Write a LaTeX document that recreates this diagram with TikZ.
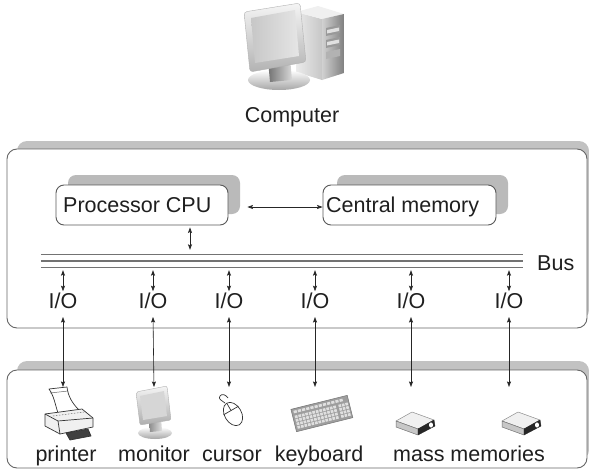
\documentclass[tikz,border=0pt]{standalone}
\usepackage{fontspec}
\setmainfont{Liberation Sans}
\usetikzlibrary{arrows.meta,calc}

\begin{document}
\begin{tikzpicture}[x=1pt,y=-1pt,
  txt/.style={font=\fontsize{21.5}{26}\selectfont, text=black!88, inner sep=0pt},
  panel/.style={draw=black!60, line width=0.9pt, rounded corners=10pt, fill=white},
  backing/.style={fill=black!24, rounded corners=10pt},
  unit/.style={draw=black!65, line width=0.9pt, rounded corners=8pt, fill=white,
               minimum width=172pt, minimum height=40pt, inner sep=0pt},
  unitshadow/.style={fill=black!27, rounded corners=8pt},
  buswire/.style={draw=black!55, line width=1.1pt},
  link/.style={{Stealth[length=5.5pt,width=4pt,inset=1pt]}-{Stealth[length=5.5pt,width=4pt,inset=1pt]},
               line width=0.6pt, draw=black!85, fill=black!85},
  outline/.style={draw=black!80, line width=0.7pt, line join=round},
  massdrive/.pic={
    \filldraw[fill=black!6, draw=black!45, line width=0.5pt, line join=round]
      (-20,-2) -- (-4,-11) -- (18,-3) -- (2,6) -- cycle;
    \filldraw[fill=black!22, draw=black!55, line width=0.5pt, line join=round]
      (-20,-2) -- (2,6) -- (2,12) -- (-20,4) -- cycle;
    \filldraw[fill=black!85, draw=black!85, line join=round]
      (2,6) -- (18,-3) -- (19,3) -- (2,12) -- cycle;
    \fill[white] (15,2) ellipse [x radius=2pt, y radius=2.6pt];
  },
]
\useasboundingbox (0,0) rectangle (589,471);

% ---------- computer icon ----------
% tower
\shade[left color=black!8, right color=black!22] (296,12) -- (322,19) -- (322,80) -- (296,72) -- cycle;
\fill[black!6] (296,12) -- (318,6) -- (344,14) -- (322,19) -- cycle;
\shade[left color=black!18, right color=black!50] (322,19) -- (344,14) -- (344,73) -- (322,80) -- cycle;
\fill[black!40] (326,28) -- (340,25) -- (340,33) -- (326,36) -- cycle;
\fill[black!12] (327,30) -- (339,27.5) -- (339,31) -- (327,33.5) -- cycle;
\fill[black!40] (326,40) -- (340,37) -- (340,45) -- (326,48) -- cycle;
\fill[black!12] (327,42) -- (339,39.5) -- (339,43) -- (327,45.5) -- cycle;
\fill[black!30] (326,52) -- (340,49) -- (340,56) -- (326,59) -- cycle;
% stand
\shade[top color=white, bottom color=black!35] (279,80) ellipse [x radius=31pt, y radius=10pt];
\shade[left color=black!55, right color=black!15] (268,60) -- (290,58) -- (292,80) -- (270,82) -- cycle;
% display
\shade[top color=black!4, bottom color=black!30, draw=black!30, rounded corners=3pt]
  (244,12) -- (300,3) -- (306,62) -- (250,72) -- cycle;
\shade[left color=black!22, right color=black!10]
  (251,18) -- (295,10) -- (299,56) -- (255,63) -- cycle;
\node[txt, anchor=base] (computer) at (292,122) {Computer};

% ---------- upper panel ----------
\fill[backing] (17,141) rectangle (589,320);
\draw[panel] (7,149) rectangle (587,328);

\fill[unitshadow] (68,175) rectangle (240,214);
\node[unit] (cpu) at (142,205) {};
\node[txt, anchor=base west] (cputext) at (63,212) {Processor CPU};

\fill[unitshadow] (337,175) rectangle (508,214);
\node[unit, minimum width=173pt] (mem) at (409.5,205) {};
\node[txt, anchor=base west] (memtext) at (326,212) {Central memory};

% bus
\node[minimum width=482pt, minimum height=12pt, inner sep=0pt] (bus) at (282,261) {};
\draw[buswire] (bus.north west) -- (bus.north east);
\draw[buswire] (bus.west) -- (bus.east);
\draw[buswire] (bus.south west) -- (bus.south east);
\node[txt, anchor=base west] (buslabel) at (537,270) {Bus};

% I/O ports
\foreach \x [count=\i] in {63,153,229,315,411,509}
  \node[txt, anchor=base] (io\i) at (\x,308) {I/O};

% ---------- lower panel ----------
\fill[backing] (17,361) rectangle (589,460);
\draw[panel] (7,370) rectangle (587,468);

% printer
\filldraw[outline, fill=white]
  (49,389) -- (67,387) .. controls (68,396) and (72,403) .. (79,410)
  -- (58,413) .. controls (55,404) and (54,396) .. (49,389) -- cycle;
\draw[black!60, line width=0.5pt] (50,393) -- (68,391);
\filldraw[outline, fill=black!6]
  (45,414) -- (82,409) -- (93,418) -- (93,427) -- (60,434) -- (45,426) -- cycle;
\draw[outline] (45,414) -- (58,421) -- (93,418);
\draw[outline] (58,421) -- (60,434);
\draw[black!60, line width=0.5pt, dash pattern=on 1.5pt off 1.5pt] (53,416) -- (84,412);
\filldraw[outline, fill=black!75] (66,433) -- (88,429) -- (91,436) -- (70,440) -- cycle;

% monitor
\shade[top color=white, bottom color=black!35] (155,433) ellipse [x radius=17pt, y radius=6pt];
\shade[left color=black!45, right color=black!12] (149,418) -- (161,417) -- (162,431) -- (150,432) -- cycle;
\shade[top color=black!4, bottom color=black!32, draw=black!30, rounded corners=2pt]
  (136,392) -- (167,386) -- (171,420) -- (140,425) -- cycle;
\fill[black!16] (140,396) -- (164,391) -- (167,416) -- (143,420) -- cycle;

% mouse
\filldraw[outline, fill=white, rotate around={30:(233,414)}]
  (233,414) ellipse [x radius=8.5pt, y radius=12.5pt];
\draw[outline, rotate around={30:(233,414)}] (224.5,410) -- (241.5,410);
\draw[outline, rotate around={30:(233,414)}] (233,401.5) -- (233,410);
\draw[outline] (225,403) .. controls (221,400) and (218,399) .. (220,396)
  .. controls (222,393) and (226,395) .. (228,398);

% keyboard
\begin{scope}[shift={(322,414)}, rotate=14]
  \filldraw[fill=black!38, draw=black!55, line width=0.5pt] (-29,-12) rectangle (29,11);
  \foreach \c in {0,...,11}
    \fill[black!12] (-27+\c*4.3,-10) rectangle ++(3.2,2.6);
  \foreach \r in {0,...,3}
    \foreach \c in {0,...,11}
      \fill[black!12] (-27+\c*3.6,-5+\r*3.6) rectangle ++(2.7,2.7);
  \foreach \r in {0,...,3}
    \foreach \c in {0,...,2}
      \fill[black!12] (18+\c*3.5,-5+\r*3.6) rectangle ++(2.6,2.7);
\end{scope}

% mass memories
\pic at (416,423) {massdrive};
\pic at (522,423) {massdrive};

% device labels
\node[txt, anchor=base] (lprinter) at (66,461) {printer};
\node[txt, anchor=base] (lmonitor) at (154,461) {monitor};
\node[txt, anchor=base] (lcursor) at (232,461) {cursor};
\node[txt, anchor=base] (lkeyboard) at (319,461) {keyboard};
\node[txt, anchor=base] (lmass) at (469,461) {mass memories};

% device attachment points
\foreach \x [count=\i] in {63,154,229,315,411,509}
  \coordinate (dev\i) at (\x,387);

% ---------- connectors ----------
\draw[link] ($(cpu.east)+(19,2)$) -- (mem.west |- {$(cpu.east)+(19,2)$});
\draw[link] ($(cpu.south)+(48,2)$) -- ($(bus.north)+(-92,-5)$);
\foreach \i in {1,...,6} {
  \draw[link] ($(bus.south -| io\i.north)+(0,3)$) -- ($(io\i.north)+(0,-1)$);
  \draw[link] ($(io\i.base)+(0,9)$) -- (dev\i);
}
\end{tikzpicture}
\end{document}
